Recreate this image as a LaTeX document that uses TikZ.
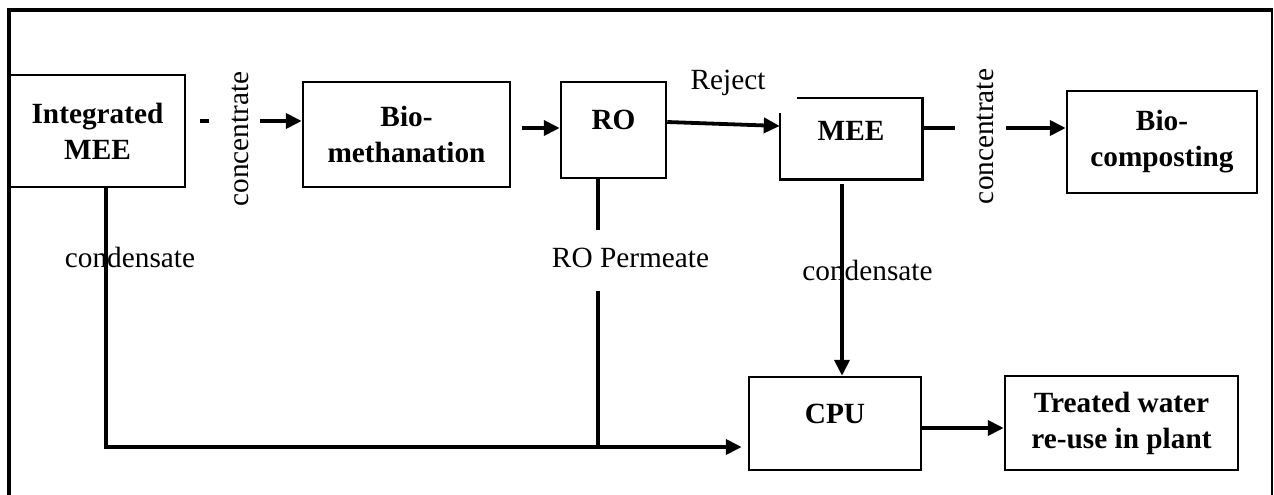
\documentclass[tikz,border=0pt]{standalone}
\usepackage{fontspec}
\setmainfont{Liberation Serif}
\usepackage{tikz}
\usetikzlibrary{positioning, arrows.meta}

\begin{document}
\begin{tikzpicture}[x=1pt, y=-1pt,
  every node/.style={font=\fontsize{29.3}{36}\selectfont, inner sep=0pt},
  unit/.style={draw, line width=2.5pt, font=\fontsize{29.3}{36}\selectfont\bfseries},
  flow/.style={line width=3.8pt},
  flowarr/.style={flow, -{Triangle[length=16pt, width=15pt]}},
]
\useasboundingbox (0,0) rectangle (1274,495);

% outer frame, open at the bottom
\draw[line width=4pt] (9,495) -- (9,10) -- (1273,10);
\draw[line width=2pt] (1272,10) -- (1272,495);

% process units (pixel coords, y downwards)
\node[unit, align=center, minimum width=175pt, minimum height=112pt] (imee) at (97.5,131) {Integrated\\MEE};
\node[unit, align=center, minimum width=207pt, minimum height=105pt] (biometh) at (406.5,134.5) {Bio-\\methanation};
\node[unit, minimum width=105pt, minimum height=96pt, text depth=20pt] (ro) at (613.5,130) {RO};
\node[unit, draw=none, minimum width=140pt, minimum height=79pt, text depth=16pt] (mee) at (851,138.5) {MEE};
\node[unit, align=center, minimum width=190pt, minimum height=102pt] (biocomp) at (1162,142) {Bio-\\composting};
\node[unit, minimum width=172pt, minimum height=93pt, text depth=20pt] (cpu) at (835,423.5) {CPU};
\node[unit, align=center, minimum width=233pt, minimum height=94pt] (treated) at (1121.5,423) {Treated water\\re-use in plant};

% MEE outline has a gap at its top left corner
\draw[line width=2.5pt] ([xshift=17pt]mee.north west) -- (mee.north east) -- (mee.south east)
  -- (mee.south west) -- ([yshift=-15pt]mee.north west);

% stream labels
\node[rotate=90] (conc1) at (240,139) {concentrate};
\node[rotate=90] (conc2) at (985,136.5) {concentrate};
\node (reject) at (728,83) {Reject};
\node (cond1) at (130,257) {condensate};
\node (permeate) at (630.5,258) {RO Permeate};
\node (cond2) at (867.5,270) {condensate};

\coordinate (dashA) at (200,121);
\coordinate (dashB) at (209,121);
\coordinate (concIn) at (260,121);
\coordinate (bmOut) at (522,128);
\coordinate (meeOut) at (955,128);
\coordinate (concIn2) at (1006,128);
\coordinate (condTop) at (842,184);
\coordinate (condX) at (106,447);
\coordinate (permX) at (598,447);
\coordinate (permHi) at (598,230);
\coordinate (permLow) at (598,291);

% top line
\draw[flow] (dashA) -- (dashB);
\draw[flowarr] (concIn) -- (concIn -| biometh.west);
\draw[flowarr] (bmOut) -- (bmOut -| ro.west);
\draw[flowarr] ([yshift=8pt]ro.east) -- ([yshift=12.5pt]mee.west);
\draw[flow] ([yshift=10.5pt]mee.east) -- (meeOut);
\draw[flowarr] (concIn2) -- (concIn2 -| biocomp.west);

% condensate and permeate to CPU
\draw[flowarr] (condTop) -- (condTop |- cpu.north);
\draw[flowarr, shorten >=6pt] (imee.south -| condX) -- (condX) -- (condX -| cpu.west);
\draw[flow] (ro.south -| permHi) -- (permHi);
\draw[flow] (permLow) -- (permX);
\draw[flowarr] ([yshift=-4.5pt]cpu.east) -- ([yshift=-5pt]treated.west);
\end{tikzpicture}
\end{document}
